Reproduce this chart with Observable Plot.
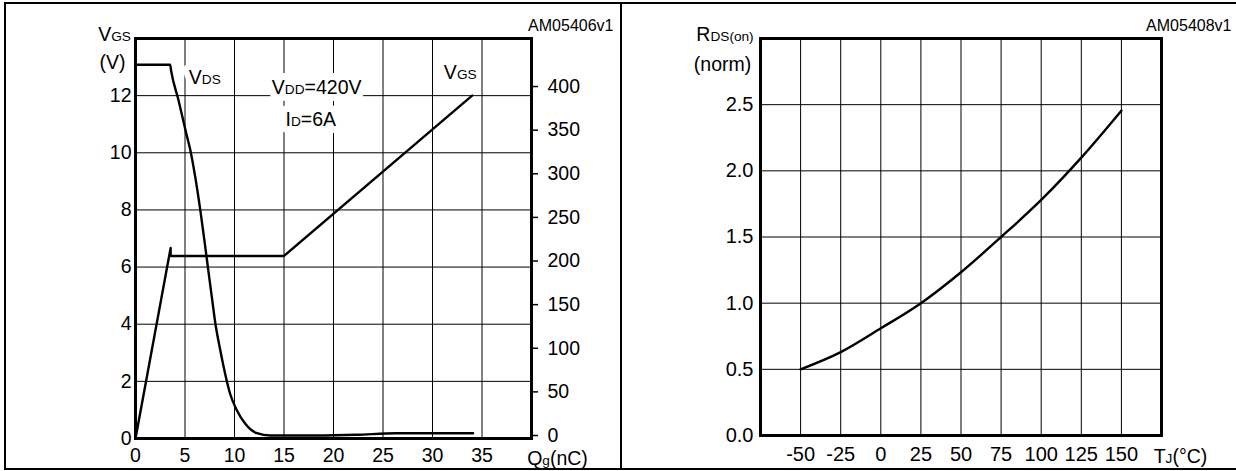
<!DOCTYPE html>
<html>
<head>
<meta charset="utf-8">
<script src="https://cdn.jsdelivr.net/npm/d3@7"></script>
<script src="https://cdn.jsdelivr.net/npm/@observablehq/plot@0.6"></script>
<style>
  html, body { margin: 0; padding: 0; background: #fff; }
  #wrap { position: relative; width: 1236px; height: 471px; overflow: hidden;
          font-family: "Liberation Sans", Arial, Helvetica, sans-serif; }
  .panel { position: absolute; top: 0; }
  .box { position: absolute; box-sizing: border-box; border: 2px solid #000; }
</style>
</head>
<body>
<div id="wrap"></div>
<script>
// ---------- Left chart: gate charge ----------
const qgTicks = [0, 5, 10, 15, 20, 25, 30, 35];
const vgsTicks = [0, 2, 4, 6, 8, 10, 12];
const vdsTicks = [0, 50, 100, 150, 200, 250, 300, 350, 400];

// VGS trace (Qg in nC, VGS in V)
const gateQg  = [0, 3.55, 3.55, 15.0, 34.0];
const gateVgs = [0, 6.67, 6.39, 6.39, 12.0];

// VDS trace (Qg in nC, VDS in V)
const drainQg  = [0, 3.5, 3.6, 4.35, 5.13, 5.54, 6.04, 6.55, 7.05, 7.38, 7.73, 8.06, 8.57, 9.07, 9.58, 10.25, 11.09, 12.27, 13.6, 15.1, 18.3, 22.3, 26.3, 34.1];
const drainVds = [425, 425, 418, 384, 346, 327, 296, 258, 216, 187, 157, 129, 97.5, 70, 47, 28.7, 13.4, 2.6, 0, 0, 0, 0.8, 2.6, 2.6];

// right axis (VDS) expressed in units of the left (VGS) axis
const vdsOffset = 0.105;   // VGS-axis value where VDS = 0
const vdsPerVgs = 32.75;   // volts of VDS per VGS-axis unit

// ---------- Right chart: normalized RDS(on) ----------
const tjTicks = [-50, -25, 0, 25, 50, 75, 100, 125, 150];
const rTicks = [0, 0.5, 1.0, 1.5, 2.0, 2.5];
const tjValues = [-50, -25, 0, 25, 50, 75, 100, 125, 150];
const rdsValues = [0.5, 0.63, 0.81, 1.0, 1.234, 1.5, 1.78, 2.1, 2.455];

const FONT = '"Liberation Sans", Arial, Helvetica, sans-serif';
const gridStyle = {stroke: "#000", strokeOpacity: 1, strokeWidth: 1};
const vdsToY = v => vdsOffset + v / vdsPerVgs;

function richify(svg) {
  d3.select(svg).selectAll("text").each(function () {
    const t = this.textContent;
    if (!t.includes("{")) return;
    const sel = d3.select(this);
    sel.text(null);
    t.split(/(\{[^}]*\})/).filter(s => s).forEach(s => {
      if (s[0] === "{") sel.append("tspan").attr("font-size", "0.7em").text(s.slice(1, -1));
      else sel.append("tspan").text(s);
    });
  });
}

// a label drawn twice: a white knock-out behind it, then the black text
function note(label, x, y, halo) {
  const base = {x: [x], y: [y], text: d => d, lineAnchor: "bottom", textAnchor: "middle", fontSize: 19.5};
  const marks = [];
  if (halo) marks.push(Plot.text([label], {...base, fill: "white", stroke: "white", strokeWidth: halo}));
  marks.push(Plot.text([label], {...base, fill: "#000"}));
  return marks;
}

const gateRows = gateQg.map((q, i) => ({q, v: gateVgs[i]}));
const drainRows = drainQg.map((q, i) => ({q, v: drainVds[i]}));

const left = Plot.plot({
  width: 620, height: 471,
  marginLeft: 135, marginRight: 89, marginTop: 38, marginBottom: 33,
  style: {fontFamily: FONT, fontSize: "19.5px", background: "transparent", color: "#000"},
  x: {domain: [0, 40], label: null},
  y: {domain: [0, 14], label: null},
  marks: [
    Plot.gridX(qgTicks.filter(d => d > 0), gridStyle),
    Plot.gridY(vgsTicks.filter(d => d > 0), gridStyle),
    Plot.axisX(qgTicks, {tickSize: 0, tickPadding: 10, label: null}),
    Plot.axisY(vgsTicks, {tickSize: 0, tickPadding: 4, label: null}),
    Plot.axisY(vdsTicks, {anchor: "right", y: vdsToY, tickSize: 6, tickPadding: 10,
                          strokeWidth: 1.5, label: null, tickFormat: d => String(d)}),
    ...note("V{DS}", 7.0, 12.4, 12),
    ...note("V{DD}=420V", 18.3, 12.06, 14),
    ...note("I{D}=6A", 17.7, 10.95, 14),
    ...note("V{GS}", 32.8, 12.58, 0),
    Plot.frame({stroke: "#000", strokeWidth: 3}),
    Plot.line(gateRows, {x: "q", y: "v", stroke: "#000", strokeWidth: 2.4}),
    Plot.line(drainRows, {x: "q", y: d => vdsToY(d.v), stroke: "#000", strokeWidth: 2.4, curve: "monotone-x"}),
    // axis titles
    Plot.text(["V{GS}"], {frameAnchor: "top-left", dx: -21, dy: 2, text: d => d, textAnchor: "middle", lineAnchor: "bottom", fontSize: 19.5}),
    Plot.text(["(V)"], {frameAnchor: "top-left", dx: -23, dy: 30, text: d => d, textAnchor: "middle", lineAnchor: "bottom", fontSize: 19.5}),
    Plot.text(["Q{g}(nC)"], {frameAnchor: "bottom-right", dx: 26, dy: 26, text: d => d, textAnchor: "middle", lineAnchor: "bottom", fontSize: 19.5}),
    Plot.text(["AM05406v1"], {frameAnchor: "top-right", dx: 82, dy: -8, text: d => d, textAnchor: "end", lineAnchor: "bottom", fontSize: 16})
  ]
});

const rdsRows = tjValues.map((t, i) => ({t, r: rdsValues[i]}));

const right = Plot.plot({
  width: 616, height: 471,
  marginLeft: 140, marginRight: 75, marginTop: 38, marginBottom: 36,
  style: {fontFamily: FONT, fontSize: "20px", background: "transparent", color: "#000"},
  x: {domain: [-75, 175], label: null},
  y: {domain: [0, 3], label: null},
  marks: [
    Plot.gridX(tjTicks, gridStyle),
    Plot.gridY(rTicks.filter(d => d > 0), gridStyle),
    Plot.axisX(tjTicks, {tickSize: 0, tickPadding: 11, label: null, tickFormat: d => String(d)}),
    Plot.axisY(rTicks, {tickSize: 0, tickPadding: 7, label: null, tickFormat: d3.format(".1f")}),
    Plot.frame({stroke: "#000", strokeWidth: 3}),
    Plot.line(rdsRows, {x: "t", y: "r", stroke: "#000", strokeWidth: 2.4, curve: "monotone-x"}),
    Plot.text(["R{DS(on)}"], {frameAnchor: "top-left", dx: -35.5, dy: 2, text: d => d, textAnchor: "middle", lineAnchor: "bottom", fontSize: 19.5}),
    Plot.text(["(norm)"], {frameAnchor: "top-left", dx: -38, dy: 32, text: d => d, textAnchor: "middle", lineAnchor: "bottom", fontSize: 19.5}),
    Plot.text(["T{J}(°C)"], {frameAnchor: "bottom-right", dx: 19, dy: 27, text: d => d, textAnchor: "middle", lineAnchor: "bottom", fontSize: 19.5}),
    Plot.text(["AM05408v1"], {frameAnchor: "top-right", dx: 70, dy: -8, text: d => d, textAnchor: "end", lineAnchor: "bottom", fontSize: 16})
  ]
});

richify(left);
richify(right);

const wrap = document.getElementById("wrap");
left.classList.add("panel");
left.style.left = "0px";
right.classList.add("panel");
right.style.left = "620px";
wrap.appendChild(left);
wrap.appendChild(right);

const outer = document.createElement("div");
outer.className = "box";
Object.assign(outer.style, {left: "4px", top: "2px", width: "1240px", height: "468px"});
wrap.appendChild(outer);
const divider = document.createElement("div");
Object.assign(divider.style, {position: "absolute", left: "619.5px", top: "2px", width: "2px", height: "468px", background: "#000"});
wrap.appendChild(divider);
</script>
</body>
</html>
